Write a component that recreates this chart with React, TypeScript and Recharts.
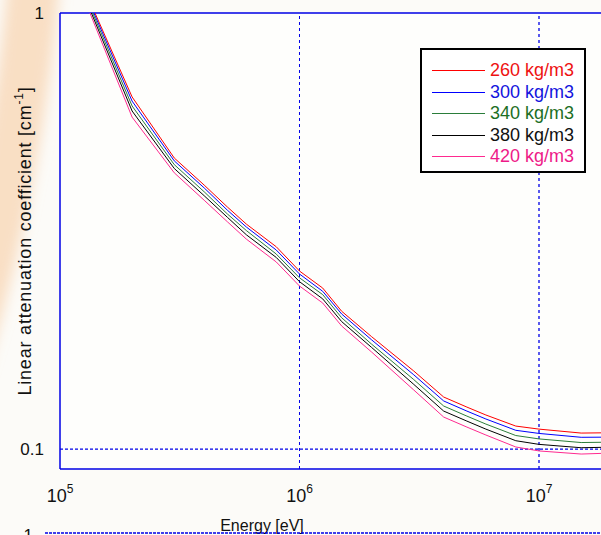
import React from 'react';
import { LineChart, Line, XAxis, YAxis, CartesianGrid, ReferenceLine, Legend, Label } from 'recharts';

const energies = [1e5, 2e5, 3e5, 4e5, 5e5, 6e5, 8e5, 1e6, 1.25e6, 1.5e6, 2e6, 3e6, 4e6, 5e6, 6e6, 8e6, 1e7, 1.5e7, 2e7];
const mu260 = [1.518, 0.642, 0.465, 0.403, 0.359, 0.328, 0.291, 0.256, 0.234, 0.207, 0.181, 0.151, 0.1316, 0.1248, 0.1197, 0.1129, 0.1111, 0.1088, 0.109];
const mu300 = [1.51, 0.628, 0.458, 0.397, 0.353, 0.323, 0.286, 0.252, 0.23, 0.204, 0.178, 0.148, 0.1289, 0.1222, 0.1172, 0.1104, 0.1086, 0.1064, 0.1065];
const mu340 = [1.502, 0.612, 0.449, 0.389, 0.346, 0.317, 0.28, 0.247, 0.226, 0.2, 0.174, 0.1443, 0.1255, 0.119, 0.1141, 0.1074, 0.1055, 0.1035, 0.1037];
const mu380 = [1.49, 0.596, 0.44, 0.381, 0.34, 0.31, 0.275, 0.242, 0.221, 0.196, 0.171, 0.1407, 0.1222, 0.1159, 0.1111, 0.1045, 0.1025, 0.1007, 0.101];
const mu420 = [1.478, 0.577, 0.43, 0.372, 0.332, 0.303, 0.2685, 0.2365, 0.2162, 0.1915, 0.1669, 0.1366, 0.1184, 0.1123, 0.1077, 0.1011, 0.099, 0.0974, 0.0979];

const seriesNames = ['260 kg/m3', '300 kg/m3', '340 kg/m3', '380 kg/m3', '420 kg/m3'];
const seriesKeys = ['d260', 'd300', 'd340', 'd380', 'd420'];
const seriesValues = [mu260, mu300, mu340, mu380, mu420];
const lineColors = ['#ff0000', '#0000ff', '#2a7d3a', '#000000', '#ff2a90'];
const textColors = ['#ee1111', '#1414dd', '#1d6e24', '#111111', '#ee1a88'];

const xTicks = [1e5, 1e6, 1e7];
const xTickExp = ['5', '6', '7'];
const yTicks = [0.1, 1];
const yTickLabels = ['0.1', '1'];

const data = energies.map((e, i) => {
  const row: any = { energy: e };
  seriesKeys.forEach((k, j) => {
    row[k] = seriesValues[j][i];
  });
  return row;
});

const FONT = "Arial, 'Liberation Sans', Helvetica, sans-serif";
const AXIS_BLUE = '#0000e6';

const XTick = (props: any) => {
  const idx = xTicks.indexOf(props.payload.value);
  return (
    <text x={props.x} y={502} textAnchor="middle" fontFamily={FONT} fill="#111">
      <tspan fontSize={18}>10</tspan>
      <tspan fontSize={12} dy={-9}>{xTickExp[idx]}</tspan>
    </text>
  );
};

const YTick = (props: any) => {
  const idx = yTicks.indexOf(props.payload.value);
  return (
    <text x={44} y={props.y} dy="0.36em" textAnchor="end" fontFamily={FONT} fontSize={17} fill="#111">
      {yTickLabels[idx]}
    </text>
  );
};

const YLabel = () => (
  <text
    x={31}
    y={241}
    transform="rotate(-90, 31, 241)"
    textAnchor="middle"
    fontFamily={FONT}
    fontSize={18}
    letterSpacing={0.8}
    fill="#111"
  >
    <tspan>Linear attenuation coefficient [cm</tspan>
    <tspan fontSize={12} dy={-8}>-1</tspan>
    <tspan dy={8}>]</tspan>
  </text>
);

const XLabel = () => (
  <text x={262} y={531} textAnchor="middle" fontFamily={FONT} fontSize={16} fill="#111">
    Energy [eV]
  </text>
);

const LegendBox = () => (
  <div
    style={{
      position: 'relative',
      width: 166,
      height: 125,
      boxSizing: 'border-box',
      border: '2px solid #000',
      background: '#ffffff',
      fontFamily: FONT,
    }}
  >
    {seriesNames.map((name, i) => (
      <div
        key={name}
        style={{ position: 'absolute', left: 0, top: 22 + 21.6 * i - 2 - 9, height: 18, width: 160 }}
      >
        <div style={{ position: 'absolute', left: 10, top: 9, width: 53, height: 1, background: lineColors[i] }} />
        <div
          style={{
            position: 'absolute',
            left: 68,
            top: 0,
            height: 18,
            lineHeight: '18px',
            fontSize: 18,
            whiteSpace: 'nowrap',
            color: textColors[i],
          }}
        >
          {name}
        </div>
      </div>
    ))}
  </div>
);

export default function App() {
  return (
    <div
      style={{
        position: 'absolute',
        left: 0,
        top: 0,
        width: 601,
        height: 535,
        overflow: 'hidden',
        background: '#fcfbf8',
      }}
    >
      <svg width={601} height={535} style={{ position: 'absolute', left: 0, top: 0 }}>
        <defs>
          <filter id="wmblur" x="-10%" y="-10%" width="120%" height="120%">
            <feGaussianBlur stdDeviation="7" />
          </filter>
        </defs>
        <circle
          cx={-1800}
          cy={-170}
          r={1840}
          fill="none"
          stroke="#f6cba2"
          strokeOpacity={0.6}
          strokeWidth={52}
          filter="url(#wmblur)"
        />
      </svg>
      <div style={{ position: 'absolute', left: 0, top: 0 }}>
        <LineChart width={601} height={535} data={data} margin={{ top: 13, right: 0, bottom: 0, left: 0 }}>
          <CartesianGrid horizontal={false} vertical={false} fill="#fefefc" fillOpacity={1} />
          <XAxis
            dataKey="energy"
            type="number"
            scale="log"
            domain={[1e5, 1.815e7]}
            ticks={xTicks}
            allowDataOverflow
            height={66}
            axisLine={{ stroke: AXIS_BLUE, strokeWidth: 1.5 }}
            tickLine={false}
            tick={<XTick />}
            interval={0}
          >
            <Label content={<XLabel />} />
          </XAxis>
          <YAxis
            type="number"
            scale="log"
            domain={[0.09, 1]}
            ticks={yTicks}
            allowDataOverflow
            width={60}
            axisLine={{ stroke: AXIS_BLUE, strokeWidth: 1.5 }}
            tickLine={false}
            tick={<YTick />}
            interval={0}
          >
            <Label content={<YLabel />} />
          </YAxis>
          <ReferenceLine x={1e6} stroke={AXIS_BLUE} strokeDasharray="3 3" strokeWidth={1} />
          <ReferenceLine x={1e7} stroke={AXIS_BLUE} strokeDasharray="3 3" strokeWidth={1.3} />
          <ReferenceLine y={0.1} stroke={AXIS_BLUE} strokeDasharray="3 2" strokeWidth={1.3} />
          <ReferenceLine y={1} stroke={AXIS_BLUE} strokeWidth={1.5} />
          {seriesKeys.map((k, i) => (
            <Line
              key={k}
              dataKey={k}
              name={seriesNames[i]}
              type="linear"
              stroke={lineColors[i]}
              strokeWidth={1}
              dot={false}
              activeDot={false}
              isAnimationActive={false}
            />
          ))}
          <Legend
            layout="vertical"
            align="center"
            verticalAlign="middle"
            content={<LegendBox />}
            wrapperStyle={{ position: 'absolute', left: 420, top: 48, width: 166, height: 125 }}
          />
        </LineChart>
      </div>
      <svg
        width={601}
        height={535}
        style={{ position: 'absolute', left: 0, top: 0, pointerEvents: 'none' }}
      >
        <line x1={45} y1={533} x2={601} y2={533} stroke={AXIS_BLUE} strokeWidth={1.5} strokeDasharray="3 1" />
        <text x={33} y={541} textAnchor="end" fontFamily={FONT} fontSize={17} fill="#111">
          1
        </text>
      </svg>
    </div>
  );
}
